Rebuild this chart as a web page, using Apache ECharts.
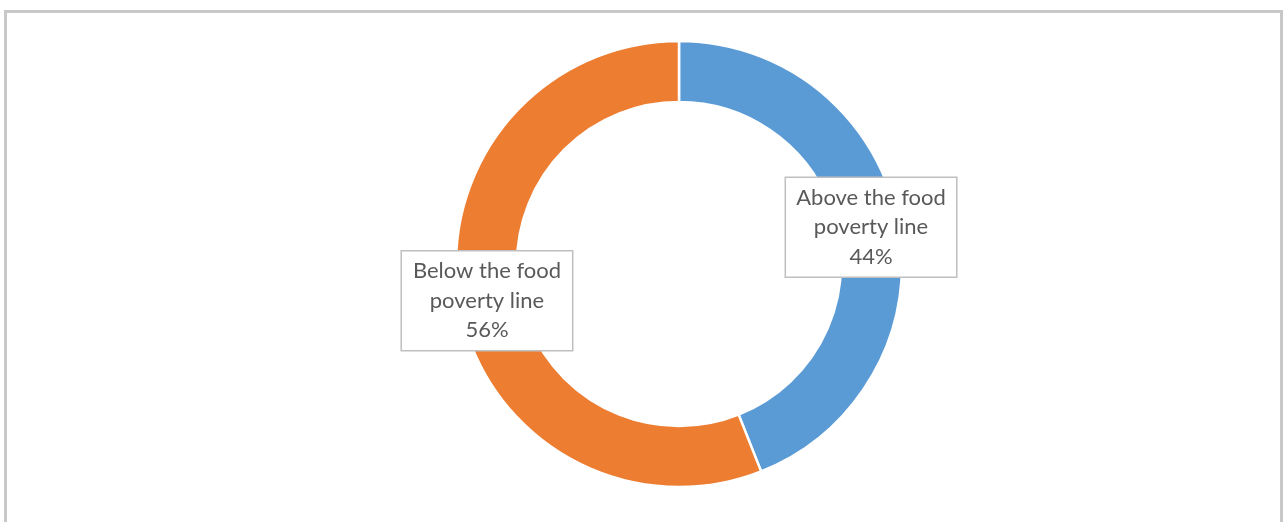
<!DOCTYPE html>
<html>
<head>
<meta charset="utf-8">
<script src="https://cdn.jsdelivr.net/npm/echarts@6/dist/echarts.min.js"></script>
<style>
  html, body { margin: 0; padding: 0; background: #ffffff; }
  #frame { position: absolute; left: 4px; top: 10px; width: 1279px; height: 530px;
           border: 3px solid #c8c8c8; border-bottom: none; box-sizing: border-box; }
  #chart { position: absolute; left: 0; top: 0; width: 1287px; height: 522px; }
</style>
</head>
<body>
<div id="frame"></div>
<div id="chart"></div>
<script>
const categories = ['Above the food poverty line', 'Below the food poverty line'];
const values = [44, 56];
const colors = ['#5B9BD5', '#ED7D31'];

const chart = echarts.init(document.getElementById('chart'), null, { renderer: 'canvas' });
chart.setOption({
  animation: false,
  series: [{
    type: 'pie',
    center: [679, 264],
    radius: [162, 223],
    startAngle: 90,
    clockwise: true,
    avoidLabelOverlap: false,
    itemStyle: { borderColor: '#ffffff', borderWidth: 2.5 },
    label: {
      show: true,
      position: 'inside',
      formatter: function (p) {
        return p.name.replace(' poverty', '\npoverty') + '\n' + Math.round(p.percent) + '%';
      },
      color: '#595959',
      fontFamily: 'Lato',
      fontSize: 22,
      lineHeight: 29.5,
      align: 'center',
      width: 158,
      backgroundColor: '#ffffff',
      borderColor: '#bfbfbf',
      borderWidth: 1.5,
      padding: [5, 6]
    },
    labelLine: { show: false },
    data: categories.map((c, i) => ({ name: c, value: values[i], itemStyle: { color: colors[i] } }))
  }]
});
</script>
</body>
</html>
